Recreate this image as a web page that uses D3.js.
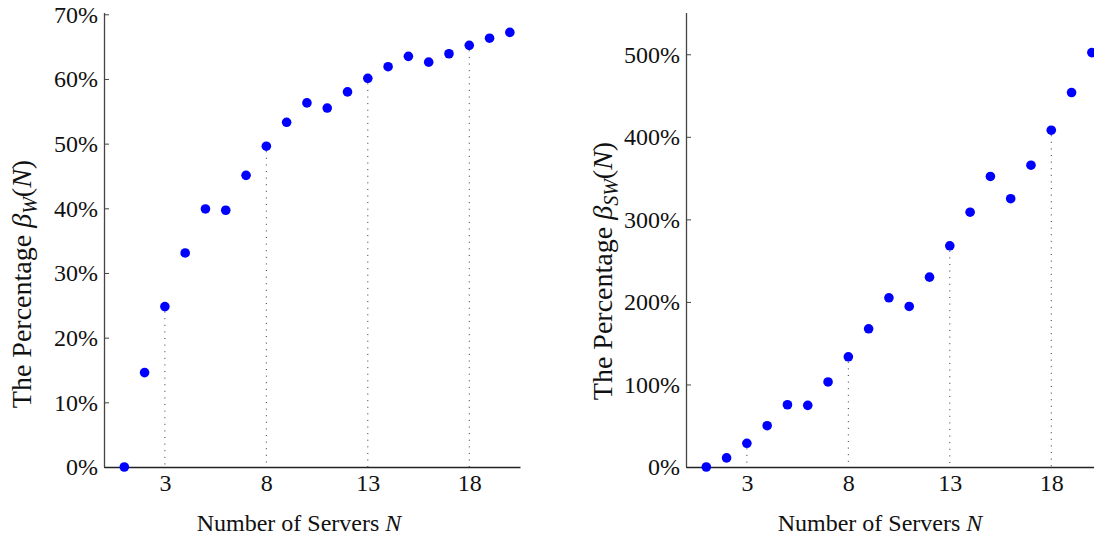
<!DOCTYPE html>
<html>
<head>
<meta charset="utf-8">
<script src="https://cdn.jsdelivr.net/npm/d3@7"></script>
<style>
  body { margin: 0; background: #fff; }
  svg { display: block; }
  text { font-family: "Liberation Serif", "DejaVu Serif", serif; fill: #111; }
</style>
</head>
<body>
<svg width="1094" height="540"></svg>
<script>
const servers = d3.range(1, 21);
// beta_W(N) in percent
const betaW = [0, 14.6, 24.8, 33.1, 39.9, 39.7, 45.1, 49.6, 53.3, 56.3,
  55.5, 58.0, 60.1, 61.9, 63.5, 62.6, 63.9, 65.2, 66.3, 67.2];
// beta_SW(N) in percent
const betaSW = [0, 11, 28.7, 50, 75.4, 74.7, 103, 133.5, 167.4, 205,
  194.5, 230, 268, 308.7, 352, 325, 365.6, 408, 453.6, 502];
const xTicks = [3, 8, 13, 18];
const yTicksW = [0, 10, 20, 30, 40, 50, 60, 70];
const yTicksSW = [0, 100, 200, 300, 400, 500];

const svg = d3.select("svg");

function panel(opts) {
  const x = d3.scaleLinear().domain([0, 20.5]).range([opts.left, opts.left + 416]);
  const y = d3.scaleLinear().domain([0, opts.ymax]).range([467, opts.top]);
  const g = svg.append("g");

  // dotted drop lines
  g.selectAll("line.drop")
    .data(xTicks)
    .enter().append("line")
    .attr("class", "drop")
    .attr("x1", d => x(d)).attr("x2", d => x(d))
    .attr("y1", d => y(opts.values[d - 1]) + 5)
    .attr("y2", y(0))
    .attr("stroke", "#333")
    .attr("stroke-width", 1)
    .attr("stroke-dasharray", "1,5.6");

  const yAxis = g.append("g")
    .attr("transform", "translate(" + opts.left + ",0)")
    .call(d3.axisRight(y).tickValues(opts.yticks).tickSize(5).tickFormat(""));
  yAxis.select(".domain").attr("stroke", "#444").attr("stroke-width", 1.3)
    .attr("d", "M0.5," + y(0) + "V" + opts.top);
  yAxis.selectAll(".tick line").attr("stroke", "#444");

  g.selectAll("text.ylab")
    .data(opts.yticks)
    .enter().append("text")
    .attr("class", "ylab")
    .attr("x", opts.left - 6)
    .attr("y", d => y(d))
    .attr("dy", "0.35em")
    .attr("text-anchor", "end")
    .style("font-size", "24px")
    .text(d => d + "%");

  const xAxis = g.append("g")
    .attr("transform", "translate(0," + y(0) + ")")
    .call(d3.axisBottom(x).tickValues(xTicks).tickSize(0));
  xAxis.select(".domain").attr("stroke", "#222").attr("stroke-width", 1.3);
  xAxis.selectAll(".tick text")
    .attr("y", 24).attr("dy", 0)
    .style("font-size", "24px")
    .style("font-family", "Liberation Serif, serif")
    .attr("fill", "#111");

  g.selectAll("circle")
    .data(servers)
    .enter().append("circle")
    .attr("cx", d => x(d))
    .attr("cy", (d, i) => y(opts.values[i]))
    .attr("r", 4.8)
    .attr("fill", "#0000ff");

  const xl = g.append("text")
    .attr("x", opts.xlabelX)
    .attr("y", 531)
    .attr("text-anchor", "middle")
    .style("font-size", "24px");
  xl.append("tspan").text("Number of Servers ");
  xl.append("tspan").style("font-style", "italic").text("N");

  const yl = g.append("text")
    .attr("text-anchor", "start")
    .style("font-size", "28px");
  yl.append("tspan").text("The Percentage ");
  yl.append("tspan").style("font-style", "italic").text("β");
  yl.append("tspan").style("font-style", "italic").style("font-size", "20px")
    .attr("dy", 6).text(opts.sub);
  yl.append("tspan").attr("dy", -6).text("(");
  yl.append("tspan").style("font-style", "italic").text("N");
  yl.append("tspan").text(")");
  const len = yl.node().getComputedTextLength();
  yl.attr("transform", "translate(" + opts.ylabelX + "," + (opts.ylabelY + len / 2) + ") rotate(-90)");
}

panel({ left: 104, top: 13, ymax: 70.2, values: betaW, yticks: yTicksW,
  sub: "W", xlabelX: 299, ylabelX: 31, ylabelY: 284 });
panel({ left: 686, top: 13, ymax: 550, values: betaSW, yticks: yTicksSW,
  sub: "SW", xlabelX: 880, ylabelX: 612, ylabelY: 271 });
</script>
</body>
</html>
